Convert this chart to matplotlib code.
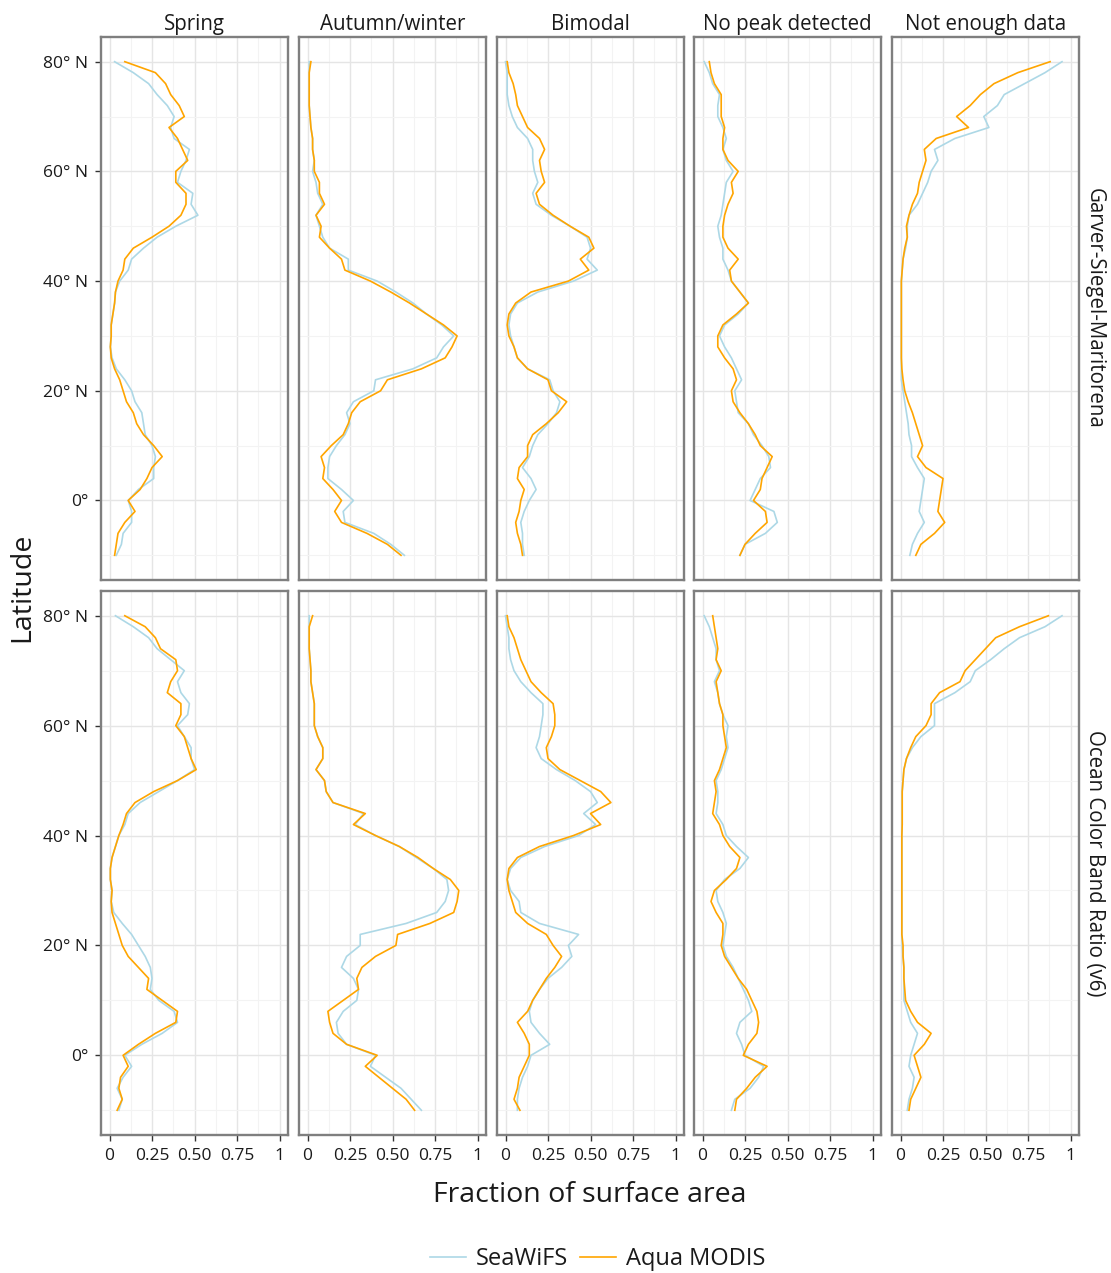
import matplotlib
matplotlib.use("Agg")
import matplotlib.pyplot as plt
from matplotlib.ticker import FixedLocator
from matplotlib.lines import Line2D

plt.rcParams['font.family'] = ['Open Sans', 'DejaVu Sans']

# ---------------- data ----------------
latitude = [80, 78, 76, 74, 72, 70, 68, 66, 64, 62, 60, 58, 56, 54, 52, 50, 48, 46, 44, 42,
            40, 38, 36, 34, 32, 30, 28, 26, 24, 22,
            20, 18, 16, 14, 12, 10, 8, 6, 4, 2, 0, -2, -4, -6, -8, -10]

phenology_classes = ["Spring", "Autumn/winter", "Bimodal", "No peak detected", "Not enough data"]
algorithms = ["Garver-Siegel-Maritorena", "Ocean Color Band Ratio (v6)"]
sensors = ["SeaWiFS", "Aqua MODIS"]
sensor_colors = ["#ADD8E6", "#FFA500"]

x_ticks = [0, 0.25, 0.5, 0.75, 1]
x_tick_labels = ["0", "0.25", "0.50", "0.75", "1"]
y_ticks = [0, 20, 40, 60, 80]
y_tick_labels = ["0°", "20° N", "40° N", "60° N", "80° N"]

# Garver-Siegel-Maritorena
gsm_spring_seawifs = [0.03, 0.14, 0.23, 0.28, 0.34, 0.38, 0.36, 0.38, 0.47, 0.45, 0.42, 0.40, 0.49, 0.48, 0.52, 0.39, 0.28, 0.20, 0.13, 0.11,
                      0.06, 0.035, 0.03, 0.02, 0.01, 0.01, 0.005, 0.015, 0.04, 0.09,
                      0.13, 0.15, 0.19, 0.20, 0.21, 0.25, 0.27, 0.26, 0.26, 0.17, 0.11, 0.13, 0.13, 0.08, 0.07, 0.04]
gsm_spring_modis = [0.09, 0.27, 0.33, 0.36, 0.41, 0.44, 0.35, 0.40, 0.43, 0.46, 0.39, 0.39, 0.45, 0.45, 0.42, 0.35, 0.25, 0.14, 0.09, 0.08,
                    0.05, 0.035, 0.03, 0.02, 0.01, 0.01, 0.005, 0.01, 0.03, 0.06,
                    0.08, 0.10, 0.14, 0.16, 0.20, 0.26, 0.31, 0.25, 0.22, 0.18, 0.11, 0.15, 0.09, 0.05, 0.04, 0.03]

gsm_autumn_seawifs = [0.01, 0.01, 0.01, 0.01, 0.01, 0.015, 0.02, 0.03, 0.03, 0.04, 0.03, 0.05, 0.06, 0.09, 0.05, 0.07, 0.09, 0.13, 0.24, 0.24,
                      0.41, 0.52, 0.62, 0.70, 0.79, 0.86, 0.80, 0.76, 0.62, 0.40,
                      0.39, 0.27, 0.23, 0.25, 0.22, 0.17, 0.13, 0.12, 0.12, 0.20, 0.27, 0.21, 0.22, 0.39, 0.49, 0.57]
gsm_autumn_modis = [0.02, 0.01, 0.01, 0.01, 0.01, 0.015, 0.02, 0.03, 0.03, 0.04, 0.04, 0.07, 0.07, 0.10, 0.05, 0.08, 0.07, 0.13, 0.20, 0.22,
                    0.37, 0.49, 0.60, 0.70, 0.80, 0.88, 0.85, 0.81, 0.67, 0.47,
                    0.43, 0.31, 0.26, 0.24, 0.21, 0.14, 0.08, 0.10, 0.09, 0.15, 0.20, 0.16, 0.20, 0.35, 0.47, 0.55]

gsm_bimodal_seawifs = [0.00, 0.01, 0.01, 0.01, 0.02, 0.04, 0.07, 0.13, 0.16, 0.16, 0.17, 0.19, 0.16, 0.18, 0.27, 0.38, 0.48, 0.50, 0.48, 0.54,
                       0.40, 0.19, 0.07, 0.03, 0.02, 0.03, 0.05, 0.07, 0.13, 0.26,
                       0.28, 0.32, 0.30, 0.25, 0.19, 0.16, 0.14, 0.10, 0.15, 0.18, 0.14, 0.11, 0.09, 0.10, 0.10, 0.11]
gsm_bimodal_modis = [0.01, 0.02, 0.045, 0.06, 0.07, 0.10, 0.13, 0.20, 0.23, 0.20, 0.21, 0.23, 0.18, 0.20, 0.28, 0.38, 0.49, 0.52, 0.44, 0.49,
                     0.37, 0.15, 0.06, 0.02, 0.01, 0.02, 0.05, 0.07, 0.13, 0.25,
                     0.27, 0.36, 0.31, 0.24, 0.16, 0.13, 0.13, 0.08, 0.07, 0.11, 0.09, 0.08, 0.06, 0.07, 0.09, 0.10]

gsm_nopeak_seawifs = [0.01, 0.04, 0.06, 0.10, 0.09, 0.09, 0.12, 0.14, 0.12, 0.14, 0.18, 0.14, 0.13, 0.12, 0.11, 0.09, 0.10, 0.12, 0.12, 0.15,
                      0.17, 0.22, 0.27, 0.21, 0.13, 0.10, 0.13, 0.17, 0.20, 0.23,
                      0.19, 0.20, 0.21, 0.27, 0.30, 0.35, 0.39, 0.40, 0.34, 0.31, 0.28, 0.42, 0.44, 0.37, 0.25, 0.22]
gsm_nopeak_modis = [0.04, 0.05, 0.07, 0.11, 0.11, 0.11, 0.13, 0.12, 0.12, 0.15, 0.21, 0.17, 0.18, 0.15, 0.13, 0.12, 0.12, 0.15, 0.21, 0.16,
                    0.17, 0.22, 0.27, 0.20, 0.12, 0.09, 0.09, 0.13, 0.18, 0.20,
                    0.17, 0.18, 0.22, 0.27, 0.31, 0.34, 0.41, 0.38, 0.35, 0.34, 0.30, 0.37, 0.38, 0.31, 0.25, 0.22]

gsm_notenough_seawifs = [0.95, 0.85, 0.73, 0.61, 0.57, 0.49, 0.52, 0.32, 0.20, 0.22, 0.18, 0.16, 0.13, 0.10, 0.05, 0.04, 0.04, 0.03, 0.015, 0.01,
                         0.005, 0.005, 0.005, 0.005, 0.005, 0.005, 0.005, 0.005, 0.005, 0.005,
                         0.015, 0.025, 0.035, 0.045, 0.05, 0.065, 0.065, 0.10, 0.14, 0.13, 0.12, 0.11, 0.14, 0.10, 0.07, 0.055]
gsm_notenough_modis = [0.88, 0.69, 0.55, 0.47, 0.41, 0.33, 0.40, 0.21, 0.14, 0.15, 0.13, 0.11, 0.10, 0.07, 0.05, 0.035, 0.04, 0.025, 0.015, 0.01,
                       0.005, 0.005, 0.005, 0.005, 0.005, 0.005, 0.005, 0.005, 0.008, 0.015,
                       0.025, 0.045, 0.07, 0.09, 0.11, 0.13, 0.10, 0.15, 0.25, 0.24, 0.23, 0.22, 0.26, 0.20, 0.12, 0.09]

# Ocean Color Band Ratio (v6)
ocx_spring_seawifs = [0.035, 0.14, 0.23, 0.28, 0.36, 0.44, 0.40, 0.42, 0.47, 0.46, 0.40, 0.44, 0.48, 0.48, 0.50, 0.40, 0.29, 0.18, 0.11, 0.09,
                      0.055, 0.035, 0.015, 0.005, 0.005, 0.015, 0.01, 0.025, 0.075, 0.13,
                      0.17, 0.21, 0.24, 0.25, 0.24, 0.29, 0.38, 0.40, 0.31, 0.19, 0.09, 0.13, 0.08, 0.045, 0.075, 0.055]
ocx_spring_modis = [0.09, 0.21, 0.27, 0.30, 0.39, 0.40, 0.36, 0.34, 0.42, 0.42, 0.39, 0.44, 0.46, 0.48, 0.51, 0.40, 0.26, 0.15, 0.10, 0.08,
                    0.055, 0.035, 0.015, 0.005, 0.005, 0.015, 0.01, 0.015, 0.035, 0.055,
                    0.075, 0.11, 0.17, 0.23, 0.22, 0.31, 0.40, 0.39, 0.27, 0.17, 0.08, 0.11, 0.065, 0.055, 0.075, 0.045]

ocx_autumn_seawifs = [0.01, 0.01, 0.01, 0.01, 0.015, 0.02, 0.02, 0.03, 0.04, 0.04, 0.04, 0.06, 0.09, 0.09, 0.05, 0.10, 0.11, 0.15, 0.33, 0.28,
                      0.40, 0.54, 0.64, 0.74, 0.82, 0.83, 0.81, 0.76, 0.58, 0.31,
                      0.31, 0.23, 0.20, 0.27, 0.30, 0.29, 0.21, 0.17, 0.18, 0.23, 0.40, 0.37, 0.46, 0.55, 0.61, 0.67]
ocx_autumn_modis = [0.03, 0.01, 0.01, 0.01, 0.015, 0.02, 0.02, 0.03, 0.04, 0.04, 0.04, 0.06, 0.09, 0.09, 0.05, 0.10, 0.11, 0.15, 0.34, 0.27,
                    0.40, 0.54, 0.65, 0.74, 0.84, 0.89, 0.88, 0.86, 0.72, 0.53,
                    0.52, 0.40, 0.32, 0.29, 0.30, 0.21, 0.12, 0.13, 0.15, 0.23, 0.41, 0.34, 0.42, 0.50, 0.58, 0.63]

ocx_bimodal_seawifs = [0.00, 0.01, 0.02, 0.02, 0.03, 0.05, 0.09, 0.15, 0.22, 0.22, 0.21, 0.20, 0.18, 0.21, 0.30, 0.41, 0.50, 0.54, 0.46, 0.53,
                       0.43, 0.23, 0.09, 0.03, 0.01, 0.03, 0.08, 0.09, 0.20, 0.43,
                       0.37, 0.39, 0.33, 0.25, 0.20, 0.16, 0.14, 0.15, 0.20, 0.26, 0.15, 0.13, 0.10, 0.08, 0.07, 0.07]
ocx_bimodal_modis = [0.01, 0.02, 0.05, 0.07, 0.09, 0.12, 0.15, 0.21, 0.28, 0.29, 0.29, 0.27, 0.24, 0.25, 0.32, 0.44, 0.56, 0.62, 0.50, 0.56,
                     0.40, 0.20, 0.07, 0.02, 0.01, 0.02, 0.04, 0.06, 0.13, 0.24,
                     0.28, 0.33, 0.29, 0.24, 0.20, 0.16, 0.13, 0.07, 0.11, 0.14, 0.14, 0.11, 0.08, 0.07, 0.05, 0.085]

ocx_nopeak_seawifs = [0.01, 0.04, 0.06, 0.08, 0.08, 0.10, 0.07, 0.09, 0.10, 0.12, 0.15, 0.14, 0.15, 0.13, 0.11, 0.08, 0.09, 0.09, 0.08, 0.12,
                      0.14, 0.20, 0.27, 0.22, 0.13, 0.08, 0.09, 0.12, 0.14, 0.13,
                      0.12, 0.14, 0.18, 0.21, 0.24, 0.27, 0.29, 0.22, 0.20, 0.23, 0.25, 0.36, 0.33, 0.28, 0.19, 0.17]
ocx_nopeak_modis = [0.06, 0.07, 0.08, 0.09, 0.08, 0.11, 0.08, 0.09, 0.10, 0.12, 0.12, 0.13, 0.14, 0.12, 0.10, 0.07, 0.08, 0.07, 0.06, 0.10,
                    0.12, 0.16, 0.22, 0.20, 0.14, 0.07, 0.05, 0.08, 0.12, 0.12,
                    0.11, 0.13, 0.17, 0.21, 0.26, 0.29, 0.32, 0.33, 0.32, 0.27, 0.24, 0.38, 0.31, 0.26, 0.20, 0.19]

ocx_notenough_seawifs = [0.95, 0.85, 0.70, 0.61, 0.53, 0.44, 0.41, 0.32, 0.20, 0.20, 0.20, 0.12, 0.07, 0.035, 0.02, 0.015, 0.01, 0.01, 0.01, 0.01,
                         0.008, 0.008, 0.008, 0.008, 0.008, 0.008, 0.008, 0.008, 0.008, 0.008,
                         0.01, 0.015, 0.02, 0.02, 0.02, 0.02, 0.04, 0.06, 0.10, 0.08, 0.06, 0.05, 0.08, 0.07, 0.05, 0.04]
ocx_notenough_modis = [0.87, 0.70, 0.56, 0.50, 0.44, 0.38, 0.35, 0.23, 0.18, 0.18, 0.15, 0.09, 0.06, 0.035, 0.02, 0.015, 0.01, 0.01, 0.01, 0.01,
                       0.008, 0.008, 0.008, 0.008, 0.008, 0.008, 0.008, 0.008, 0.008, 0.008,
                       0.015, 0.015, 0.02, 0.02, 0.025, 0.03, 0.06, 0.10, 0.18, 0.14, 0.08, 0.10, 0.12, 0.09, 0.06, 0.05]

panel_data = [
    [(gsm_spring_seawifs, gsm_spring_modis), (gsm_autumn_seawifs, gsm_autumn_modis),
     (gsm_bimodal_seawifs, gsm_bimodal_modis), (gsm_nopeak_seawifs, gsm_nopeak_modis),
     (gsm_notenough_seawifs, gsm_notenough_modis)],
    [(ocx_spring_seawifs, ocx_spring_modis), (ocx_autumn_seawifs, ocx_autumn_modis),
     (ocx_bimodal_seawifs, ocx_bimodal_modis), (ocx_nopeak_seawifs, ocx_nopeak_modis),
     (ocx_notenough_seawifs, ocx_notenough_modis)],
]

# ---------------- layout ----------------
W, H = 1111, 1273
fig = plt.figure(figsize=(W / 100, H / 100), dpi=100)

col_left_px = [101, 299, 497, 694, 892]
col_w_px = 187
row_top_px = [37, 591]
row_h_px = [543, 544]

tick_fs = 12.5
strip_fs = 14.8
title_fs = 20.5
text_col = "#1a1a1a"

for r in range(2):
    for c in range(5):
        left = col_left_px[c] / W
        bottom = 1 - (row_top_px[r] + row_h_px[r]) / H
        ax = fig.add_axes([left, bottom, col_w_px / W, row_h_px[r] / H])
        seawifs, modis = panel_data[r][c]
        ax.plot(seawifs, latitude, color=sensor_colors[0], lw=1.2, zorder=3)
        ax.plot(modis, latitude, color=sensor_colors[1], lw=1.2, zorder=4)
        ax.set_xlim(-0.05, 1.05)
        ax.set_ylim(-14.5, 84.5)
        ax.xaxis.set_major_locator(FixedLocator(x_ticks))
        ax.xaxis.set_minor_locator(FixedLocator([0.125, 0.375, 0.625, 0.875]))
        ax.yaxis.set_major_locator(FixedLocator(y_ticks))
        ax.yaxis.set_minor_locator(FixedLocator([-10, 10, 30, 50, 70]))
        ax.grid(which='major', color='#E5E5E5', lw=1.0, zorder=0)
        ax.grid(which='minor', color='#F3F3F3', lw=0.8, zorder=0)
        ax.set_axisbelow(True)
        for sp in ax.spines.values():
            sp.set_color('#7F7F7F')
            sp.set_linewidth(1.7)
        ax.tick_params(which='minor', length=0)
        ax.tick_params(which='major', length=4.5, width=1.0, color='#333333',
                       labelsize=tick_fs, labelcolor=text_col, pad=4.5)
        if c == 0:
            ax.set_yticklabels(y_tick_labels)
        else:
            ax.tick_params(axis='y', which='both', left=False, labelleft=False)
        if r == 1:
            ax.set_xticklabels(x_tick_labels)
        else:
            ax.tick_params(axis='x', which='both', bottom=False, labelbottom=False)
        if r == 0:
            ax.set_title(phenology_classes[c], fontsize=strip_fs, color=text_col, pad=5)
        if c == 4:
            ax.text(1.083, 0.5, algorithms[r], rotation=270, transform=ax.transAxes,
                    ha='center', va='center', fontsize=strip_fs, color=text_col)

fig.text(22 / W, 1 - 587 / H, "Latitude", rotation=90, ha='center', va='center',
         fontsize=title_fs, color=text_col)
fig.text(590 / W, 1 - 1195 / H, "Fraction of surface area", ha='center', va='center',
         fontsize=title_fs, color=text_col)

handles = [Line2D([0], [0], color=col, lw=1.2) for col in sensor_colors]
fig.legend(handles, sensors, loc='center', bbox_to_anchor=(598 / W, 1 - 1259 / H),
           ncol=2, frameon=False, fontsize=17, handlelength=1.5, columnspacing=0.5,
           handletextpad=0.45, labelcolor=text_col)

fig.savefig("out.png", dpi=100, facecolor='white')
